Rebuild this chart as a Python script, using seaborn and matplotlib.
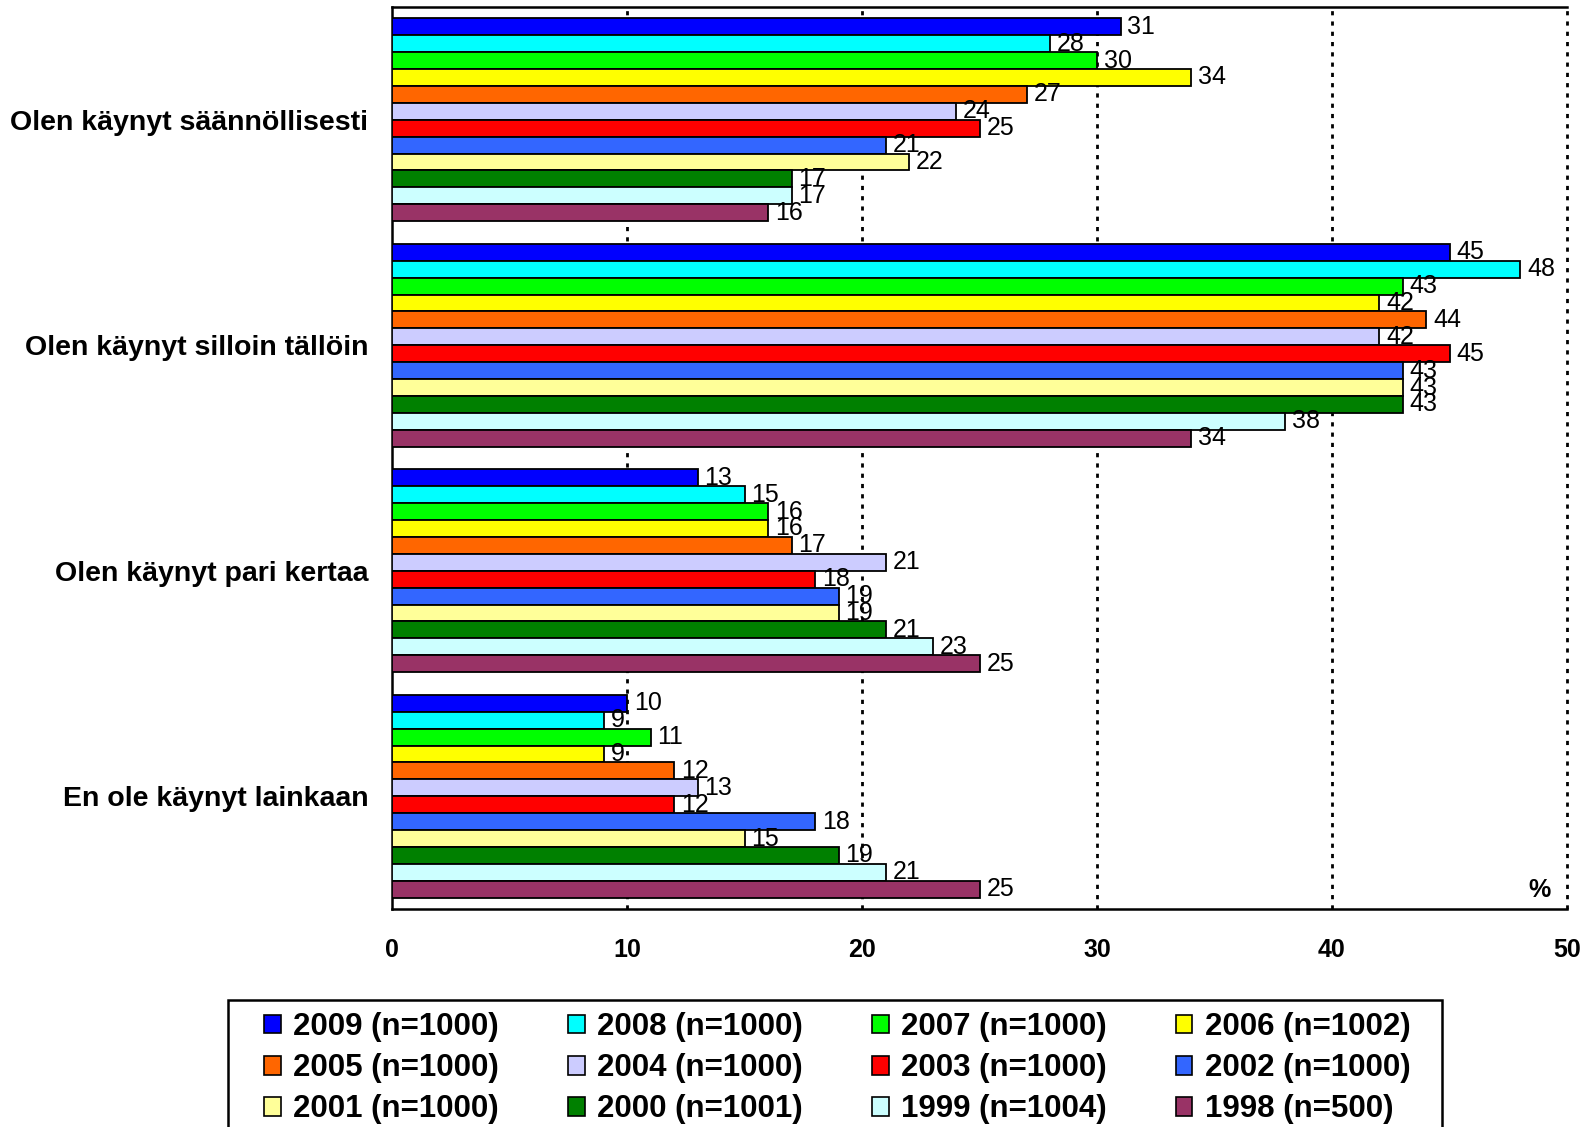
import matplotlib
matplotlib.use("Agg")
import matplotlib.pyplot as plt
import matplotlib.patches as mpatches
from matplotlib.ticker import FixedLocator
import seaborn as sns
import pandas as pd

categories = ["Olen käynyt säännöllisesti", "Olen käynyt silloin tällöin",
              "Olen käynyt pari kertaa", "En ole käynyt lainkaan"]
series = ["2009 (n=1000)", "2008 (n=1000)", "2007 (n=1000)", "2006 (n=1002)",
          "2005 (n=1000)", "2004 (n=1000)", "2003 (n=1000)", "2002 (n=1000)",
          "2001 (n=1000)", "2000 (n=1001)", "1999 (n=1004)", "1998 (n=500)"]
colors = ["#0000FF", "#00FFFF", "#00FF00", "#FFFF00", "#FF6600", "#CCCCFF",
          "#FF0000", "#3366FF", "#FFFF99", "#008000", "#CCFFFF", "#993366"]

saannollisesti = [31, 28, 30, 34, 27, 24, 25, 21, 22, 17, 17, 16]
silloin_talloin = [45, 48, 43, 42, 44, 42, 45, 43, 43, 43, 38, 34]
pari_kertaa = [13, 15, 16, 16, 17, 21, 18, 19, 19, 21, 23, 25]
ei_lainkaan = [10, 9, 11, 9, 12, 13, 12, 18, 15, 19, 21, 25]
values_by_cat = [saannollisesti, silloin_talloin, pari_kertaa, ei_lainkaan]

rows = []
for cat, vals in zip(categories, values_by_cat):
    for s, v in zip(series, vals):
        rows.append({"category": cat, "series": s, "value": v})
df = pd.DataFrame(rows)

sns.set_theme(style="white")
plt.rcParams["font.family"] = ["Liberation Sans", "DejaVu Sans"]
plt.rcParams["text.color"] = "black"
plt.rcParams["xtick.color"] = "black"
plt.rcParams["ytick.color"] = "black"
plt.rcParams["xtick.labelcolor"] = "black"
plt.rcParams["ytick.labelcolor"] = "black"

W, H = 1592, 1127
fig = plt.figure(figsize=(W / 100, H / 100), dpi=100)
ax = fig.add_axes([392 / W, 1 - 909 / H, (1567 - 392) / W, (909 - 7) / H])

sns.barplot(data=df, x="value", y="category", hue="series", order=categories,
            hue_order=series, palette=dict(zip(series, colors)), orient="h",
            width=0.9, edgecolor="black", linewidth=1.3, saturation=1,
            errorbar=None, ax=ax, legend=False, zorder=3)

for cont in ax.containers:
    ax.bar_label(cont, fmt="%d", padding=5, fontsize=18, color="black", zorder=4)

ax.set_xlim(0, 50)
ax.set_ylim(3.5, -0.5)
ax.set_xticks([0, 10, 20, 30, 40, 50])
ax.set_xticklabels(["0", "10", "20", "30", "40", "50"], fontweight="bold",
                   fontsize=18, color="black")
ax.set_yticks(range(4))
ax.set_yticklabels(categories, fontweight="bold", fontsize=20.5, color="black")
ax.yaxis.set_minor_locator(FixedLocator([-0.5, 0.5, 1.5, 2.5, 3.5]))
ax.tick_params(axis="y", which="major", length=0, pad=17)
ax.tick_params(axis="y", which="minor", length=8, width=1.8, direction="out", color="black")
ax.tick_params(axis="x", which="major", length=12, width=1.8, direction="inout",
               color="black", pad=15)
ax.set_xlabel("")
ax.set_ylabel("")

for x in [10, 20, 30, 40, 50]:
    ax.axvline(x, color="black", linestyle=(0, (1.5, 2.2)), linewidth=2.0,
               zorder=1, clip_on=False)

for side in ["left", "bottom", "top"]:
    ax.spines[side].set_color("black")
    ax.spines[side].set_linewidth(1.8)
ax.spines["right"].set_visible(False)

ax.text(0.977, 0.008, "%", transform=ax.transAxes, ha="center", va="bottom",
        fontsize=18, fontweight="bold", color="black", zorder=5)

# legend frame (open at the bottom edge of the figure, as in the reference)
frame = mpatches.Rectangle((228 / W, -0.02), (1442 - 228) / W, (1127 - 1000) / H + 0.02,
                           transform=fig.transFigure, fill=False, edgecolor="black",
                           linewidth=1.8)
fig.patches.append(frame)

# legend, row-major order in 4 columns
handles = [mpatches.Patch(facecolor=c, edgecolor="black", linewidth=1.2) for c in colors]
ncol, nrow = 4, 3
order = [r * ncol + c for c in range(ncol) for r in range(nrow)]
leg = fig.legend([handles[i] for i in order], [series[i] for i in order],
                 loc="upper left", bbox_to_anchor=(264 / W, 1 - 1012 / H),
                 ncol=ncol, frameon=False, borderpad=0, borderaxespad=0,
                 handlelength=0.54, handleheight=0.54, handletextpad=0.4,
                 columnspacing=2.2, labelspacing=0.36,
                 prop={"family": ["Liberation Sans"], "weight": "bold", "size": 22.5})
for t in leg.get_texts():
    t.set_color("black")

fig.savefig("out.png", dpi=100)
